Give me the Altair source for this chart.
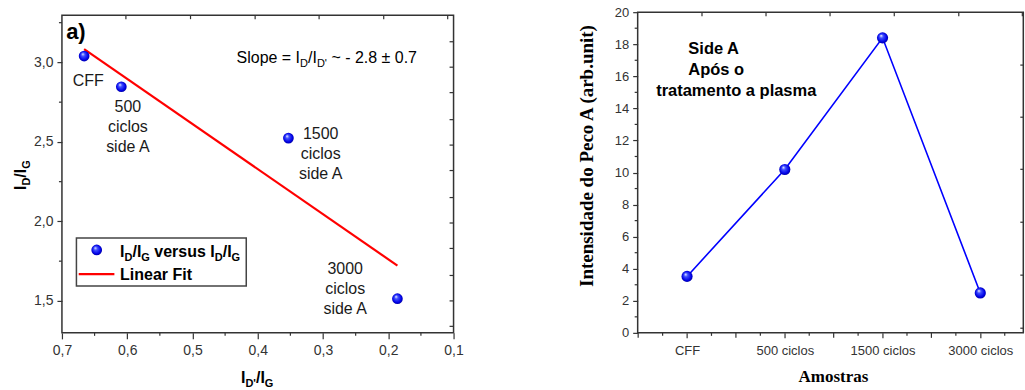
import json
import altair as alt
import pandas as pd

# ---------------- data: left panel ----------------
left_names = ["CFF", "500 ciclos side A", "1500 ciclos side A", "3000 ciclos side A"]
left_x = [0.666, 0.609, 0.353, 0.186]
left_y = [3.04, 2.847, 2.524, 1.514]
fit_x = [0.666, 0.186]
fit_y = [3.084, 1.722]
left_x_ticks = [0.7, 0.6, 0.5, 0.4, 0.3, 0.2, 0.1]
left_x_minor = [0.65, 0.55, 0.45, 0.35, 0.25, 0.15]
left_y_ticks = [1.5, 2.0, 2.5, 3.0]
left_y_minor = [1.75, 2.25, 2.75, 3.25]
left_top_ticks = [0.602, 0.503, 0.404, 0.306, 0.207, 0.109]
left_right_ticks = [3.13, 2.97, 2.81, 2.64, 2.48, 2.32, 2.15, 1.99, 1.83, 1.66, 1.50, 1.34]

# ---------------- data: right panel ----------------
samples = ["CFF", "500 ciclos", "1500 ciclos", "3000 ciclos"]
intensity = [3.52, 10.19, 18.4, 2.49]
right_y_ticks = [0, 2, 4, 6, 8, 10, 12, 14, 16, 18, 20]
right_y_minor = [1, 3, 5, 7, 9, 11, 13, 15, 17, 19]
right_x_half = [-0.5, 0.5, 1.5, 2.5]
right_x_minor = [-0.25, 0.25, 0.75, 1.25, 1.75, 2.25, 2.75, 3.25]
right_top_ticks = [0.153, 0.808, 1.463, 2.12, 2.78, 3.43]
right_right_ticks = [16.7, 13.45, 10.2, 6.9, 3.6, 0.29]

W1, W2, H = 392, 386, 321
SANS = "Liberation Sans"
SERIF = "Liberation Serif"
TICK = "#333333"
ONE = pd.DataFrame({"k": [0]})

AR = {" ": 278, "=": 584, "/": 278, "'": 191, "~": 584, "-": 333, ".": 278, "±": 549,
      "S": 667, "l": 222, "o": 556, "p": 556, "e": 556, "I": 278, "D": 722, "G": 778}
AB = {" ": 278, "/": 278, "'": 238, "I": 278, "D": 722, "G": 778, "v": 556, "e": 556,
      "r": 389, "s": 556, "u": 611}


def text_w(s, size, bold):
    tbl = AB if bold else AR
    return sum(tbl.get(c, 556) for c in s) * size / 1000.0


def txt(s, x, y, size, bold=False, font=SANS, angle=0, align="left", color="black", line_h=None):
    kw = dict(text=s, font=font, fontSize=size, fontWeight="bold" if bold else "normal",
              align=align, baseline="alphabetic", color=color)
    if angle:
        kw["angle"] = angle
    if line_h:
        kw["lineHeight"] = line_h
    return alt.Chart(ONE).mark_text(**kw).encode(x=alt.value(x), y=alt.value(y))


def rich_h(pieces, x0, y0, bold, main=16, sub=11, sub_dy=4):
    """Compose text with subscripts; leading/trailing spaces become advances."""
    out, x = [], x0
    for s, is_sub in pieces:
        size = sub if is_sub else main
        core = s.strip(" ")
        lead = len(s) - len(s.lstrip(" "))
        x += text_w(" " * lead, size, bold)
        if core:
            out.append(txt(core, x, y0 + (sub_dy if is_sub else 0), size, bold))
        x += text_w(s[lead:], size, bold)
    return out


def rich_v(pieces, x0, y0, bold, main=16, sub=11, sub_dy=4):
    out, y = [], y0
    for s, is_sub in pieces:
        size = sub if is_sub else main
        out.append(txt(s, x0 + (sub_dy if is_sub else 0), y, size, bold, angle=270))
        y -= text_w(s, size, bold)
    return out


sphere = alt.Gradient(
    gradient="radial",
    stops=[alt.GradientStop(offset=0, color="#ffffff"),
           alt.GradientStop(offset=0.3, color="#4050ff"),
           alt.GradientStop(offset=0.75, color="#0000e8"),
           alt.GradientStop(offset=1, color="#00008c")],
    x1=0.36, y1=0.3, r1=0, x2=0.5, y2=0.5, r2=0.55,
)

# ---------------- left panel ----------------
LX = alt.Scale(domain=[0.1, 0.7], reverse=True, zero=False, nice=False)
LY = alt.Scale(domain=[1.299, 3.316], zero=False, nice=False)
LXA = alt.Axis(values=left_x_ticks, title=None, grid=False, domain=False, tickSize=6,
               tickColor=TICK, tickWidth=1.2, labelFont=SANS, labelFontSize=14,
               labelColor="#333", labelPadding=5, labelFlush=False, labelOverlap=False,
               labelExpr="replace(format(datum.value, '.1f'), '.', ',')")
LYA = alt.Axis(values=left_y_ticks, title=None, grid=False, domain=False, tickSize=5,
               tickColor=TICK, tickWidth=1.2, labelFont=SANS, labelFontSize=14,
               labelColor="#333", labelPadding=4, labelFlush=False, labelOverlap=False,
               labelExpr="replace(format(datum.value, '.1f'), '.', ',')")

df_left = pd.DataFrame({"x": left_x, "y": left_y, "name": left_names})
df_fit = pd.DataFrame({"x": fit_x, "y": fit_y})

l_frame = alt.Chart(ONE).mark_rect(fill="white", fillOpacity=0, stroke=TICK, strokeWidth=1.5).encode(
    x=alt.value(0), x2=alt.value(W1), y=alt.value(3), y2=alt.value(H))
l_xminor = alt.Chart(pd.DataFrame({"v": left_x_minor})).mark_rule(color=TICK, strokeWidth=1.2).encode(
    x=alt.X("v:Q", scale=LX, axis=LXA), y=alt.value(H), y2=alt.value(H + 3))
l_yminor = alt.Chart(pd.DataFrame({"v": left_y_minor})).mark_rule(color=TICK, strokeWidth=1.2).encode(
    y=alt.Y("v:Q", scale=LY, axis=LYA), x=alt.value(-3), x2=alt.value(0))
l_top = alt.Chart(pd.DataFrame({"v": left_top_ticks})).mark_rule(color=TICK, strokeWidth=1.2).encode(
    x=alt.X("v:Q", scale=LX, axis=LXA), y=alt.value(3), y2=alt.value(7))
l_right = alt.Chart(pd.DataFrame({"v": left_right_ticks})).mark_rule(color=TICK, strokeWidth=1.2).encode(
    y=alt.Y("v:Q", scale=LY, axis=LYA), x=alt.value(W1 - 4), x2=alt.value(W1))
l_fit = alt.Chart(df_fit).mark_line(color="#ff0000", strokeWidth=2.2).encode(
    x=alt.X("x:Q", scale=LX, axis=LXA), y=alt.Y("y:Q", scale=LY, axis=LYA))
l_pts = alt.Chart(df_left).mark_circle(size=115, fill=sphere, fillOpacity=1, opacity=1).encode(
    x=alt.X("x:Q", scale=LX, axis=LXA), y=alt.Y("y:Q", scale=LY, axis=LYA))

l_texts = [
    txt("a)", 4.2, 27.3, 22, bold=True),
    txt("CFF", 10.8, 74, 16, color="#1a1a1a"),
    txt(["500", "ciclos", "side A"], 66, 99.7, 16, align="center", color="#1a1a1a", line_h=20),
    txt(["1500", "ciclos", "side A"], 259, 127.3, 16, align="center", color="#1a1a1a", line_h=20),
    txt(["3000", "ciclos", "side A"], 283.5, 262, 16, align="center", color="#1a1a1a", line_h=20),
]
l_texts += rich_h([("Slope = I", False), ("D", True), ("/I", False), ("D'", True),
                   (" ~ - 2.8 ± 0.7", False)], 174.8, 51.3, bold=False)
# legend
l_leg_box = alt.Chart(ONE).mark_rect(fill="white", stroke="#444", strokeWidth=1.5).encode(
    x=alt.value(14.5), x2=alt.value(184.5), y=alt.value(226), y2=alt.value(274))
l_leg_sym = alt.Chart(ONE).mark_circle(size=115, fill=sphere, fillOpacity=1, opacity=1).encode(
    x=alt.value(34.8), y=alt.value(238))
l_leg_line = alt.Chart(ONE).mark_rule(color="#ff0000", strokeWidth=2.2).encode(
    x=alt.value(16.8), x2=alt.value(52.5), y=alt.value(262.3))
l_texts += rich_h([("I", False), ("D", True), ("/I", False), ("G", True), (" versus I", False),
                   ("D", True), ("/I", False), ("G", True)], 58.2, 244.7, bold=True)
l_texts.append(txt("Linear Fit", 58.2, 268, 16, bold=True))
# axis titles
l_texts += rich_h([("I", False), ("D'", True), ("/I", False), ("G", True)], 179.2, 371.3, bold=True)
l_texts += rich_v([("I", False), ("D", True), ("/I", False), ("G", True)], -35.8, 178, bold=True)

left = alt.layer(l_frame, l_xminor, l_yminor, l_top, l_right, l_fit, l_pts,
                 l_leg_box, l_leg_sym, l_leg_line, *l_texts).properties(width=W1, height=H)

# ---------------- right panel ----------------
RX = alt.Scale(domain=[-0.505, 3.44], zero=False, nice=False)
RY = alt.Scale(domain=[0, 20], zero=False, nice=False)
RXA = alt.Axis(values=[0, 1, 2, 3], title=None, grid=False, domain=False, tickSize=5,
               tickColor=TICK, tickWidth=1.2, labelFont=SANS, labelFontSize=13,
               labelColor="#333", labelPadding=7, labelFlush=False, labelOverlap=False,
               labelExpr=json.dumps(samples) + "[datum.value]")
RYA = alt.Axis(values=right_y_ticks, title=None, grid=False, domain=False, tickSize=5,
               tickColor=TICK, tickWidth=1.2, labelFont=SANS, labelFontSize=13,
               labelColor="#333", labelPadding=4, labelFlush=False, labelOverlap=False,
               format="d")

df_right = pd.DataFrame({"idx": list(range(len(samples))), "sample": samples, "val": intensity})

r_frame = alt.Chart(ONE).mark_rect(fill="white", fillOpacity=0, stroke=TICK, strokeWidth=1.5).encode(
    x=alt.value(0), x2=alt.value(W2), y=alt.value(0), y2=alt.value(H))
r_xhalf = alt.Chart(pd.DataFrame({"v": right_x_half})).mark_rule(color=TICK, strokeWidth=1.2).encode(
    x=alt.X("v:Q", scale=RX, axis=RXA), y=alt.value(H), y2=alt.value(H + 5))
r_xminor = alt.Chart(pd.DataFrame({"v": right_x_minor})).mark_rule(color=TICK, strokeWidth=1.2).encode(
    x=alt.X("v:Q", scale=RX, axis=RXA), y=alt.value(H), y2=alt.value(H + 3))
r_yminor = alt.Chart(pd.DataFrame({"v": right_y_minor})).mark_rule(color=TICK, strokeWidth=1.2).encode(
    y=alt.Y("v:Q", scale=RY, axis=RYA), x=alt.value(-3), x2=alt.value(0))
r_top = alt.Chart(pd.DataFrame({"v": right_top_ticks})).mark_rule(color=TICK, strokeWidth=1.2).encode(
    x=alt.X("v:Q", scale=RX, axis=RXA), y=alt.value(0), y2=alt.value(4))
r_right = alt.Chart(pd.DataFrame({"v": right_right_ticks})).mark_rule(color=TICK, strokeWidth=1.2).encode(
    y=alt.Y("v:Q", scale=RY, axis=RYA), x=alt.value(W2 - 3), x2=alt.value(W2))
r_line = alt.Chart(df_right).mark_line(color="#0000ff", strokeWidth=1.6).encode(
    x=alt.X("idx:Q", scale=RX, axis=RXA), y=alt.Y("val:Q", scale=RY, axis=RYA))
r_pts = alt.Chart(df_right).mark_circle(size=125, fill=sphere, fillOpacity=1, opacity=1).encode(
    x=alt.X("idx:Q", scale=RX, axis=RXA), y=alt.Y("val:Q", scale=RY, axis=RYA))

r_texts = [
    txt(["Side A", "Após o"], 50.7, 42, 16.5, bold=True, line_h=21),
    txt("tratamento a plasma", 18.5, 84, 16.5, bold=True),
    txt("Amostras", 196, 369.7, 17, bold=True, font=SERIF, align="center"),
    txt("Intensidade do Peco A (arb.unit)", -44.3, 144, 19, bold=True, font=SERIF,
        align="center", angle=270),
]

right = alt.layer(r_frame, r_xhalf, r_xminor, r_yminor, r_top, r_right, r_line, r_pts,
                  *r_texts).properties(width=W2, height=H)

chart = alt.hconcat(left, right, spacing=184.3, bounds="flush").properties(
    padding={"left": 12, "top": 5, "right": 0, "bottom": 0}
).configure_view(stroke="transparent")

chart.save("out.html", embed_options={"renderer": "svg", "actions": False})
